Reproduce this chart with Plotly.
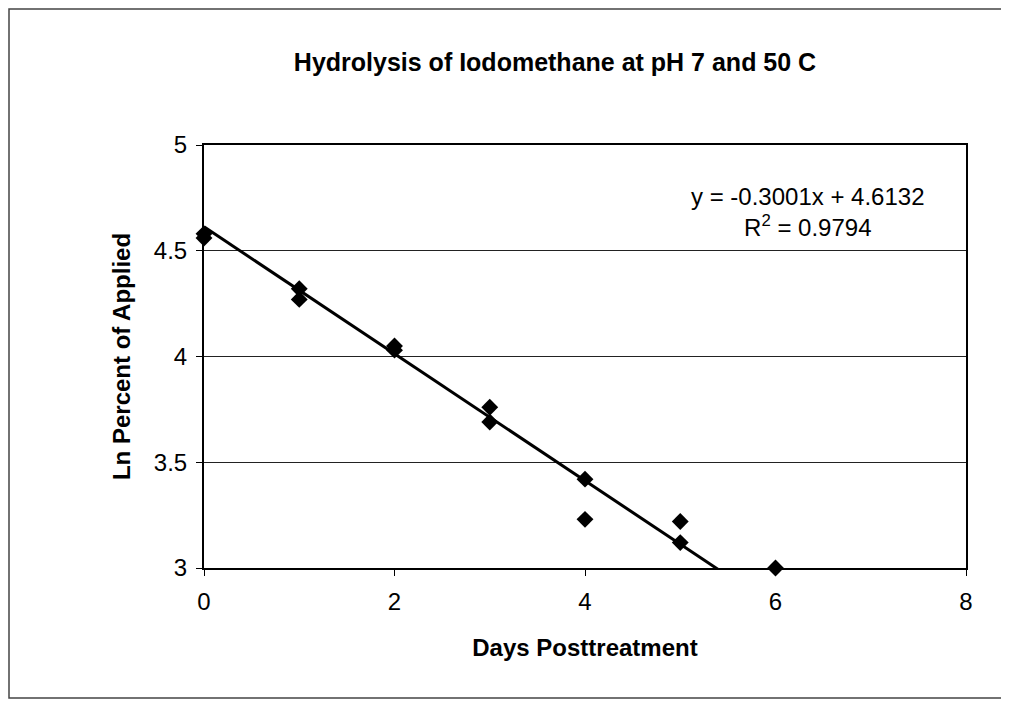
import numpy as np
import plotly.graph_objects as go

# Data
days = [0, 0, 1, 1, 2, 2, 3, 3, 4, 4, 5, 5, 6]
ln_percent = [4.58, 4.56, 4.32, 4.27, 4.05, 4.03, 3.76, 3.69, 3.42, 3.23, 3.22, 3.12, 3.0]
slope = -0.3001
intercept = 4.6132
r_squared = 0.9794
x_ticks = [0, 2, 4, 6, 8]
y_ticks = [3, 3.5, 4, 4.5, 5]

FONT = "Arial, 'Liberation Sans', sans-serif"

trend_x = np.array([min(x_ticks), max(x_ticks)], dtype=float)
trend_y = slope * trend_x + intercept

fig = go.Figure()
fig.add_trace(go.Scatter(
    x=trend_x, y=trend_y, mode="lines",
    line=dict(color="black", width=3),
    showlegend=False, hoverinfo="skip",
))
fig.add_trace(go.Scatter(
    x=days, y=ln_percent, mode="markers",
    marker=dict(symbol="diamond", size=13, color="black"),
    cliponaxis=False, showlegend=False,
))

OFF = 8  # page body margin
W, H = 1009 - OFF, 711 - OFF
L, R, T, B = 204 - OFF, 966 - OFF, 145 - OFF, 568 - OFF
pw, ph = R - L, B - T


def px(xp):
    return (xp - OFF - L) / pw


def py(yp):
    return (B - (yp - OFF)) / ph


fig.update_layout(
    width=W, height=H,
    margin=dict(l=L, r=W - R, t=T, b=H - B),
    paper_bgcolor="white", plot_bgcolor="white",
    font=dict(family=FONT, color="black", size=24),
    title=dict(
        text="<b>Hydrolysis of Iodomethane at pH 7 and 50 C</b>",
        xref="paper", x=px(555), xanchor="center",
        yref="container", y=1 - (62 - OFF) / H, yanchor="middle",
        font=dict(size=25, family=FONT, color="black"),
    ),
    xaxis=dict(
        range=[0, 8], tickvals=x_ticks, ticks="outside", ticklen=6,
        tickcolor="black", tickwidth=1, showgrid=False, zeroline=False,
        showline=True, linecolor="black", linewidth=2, mirror=True,
        ticklabelstandoff=5, tickfont=dict(size=24),
        title=dict(text="<b>Days Posttreatment</b>", standoff=25,
                   font=dict(size=24)),
    ),
    yaxis=dict(
        range=[3, 5], tickvals=y_ticks, ticks="outside", ticklen=6,
        tickcolor="black", tickwidth=1, showgrid=True, gridcolor="#222222",
        gridwidth=1, zeroline=False,
        showline=True, linecolor="black", linewidth=2, mirror=True,
        ticklabelstandoff=4, tickfont=dict(size=24),
        title=dict(text="<b>Ln Percent of Applied</b>", standoff=16,
                   font=dict(size=24)),
    ),
    shapes=[dict(
        type="rect", xref="paper", yref="paper",
        x0=px(9), x1=px(1005), y0=py(698), y1=py(9),
        line=dict(color="#444444", width=1.5), layer="below",
    )],
    annotations=[dict(
        text=f"y = {slope:.4f}x + {intercept:.4f}<br>R<sup>2</sup> = {r_squared:.4f}",
        x=px(808), y=py(212), xref="paper", yref="paper",
        xanchor="center", yanchor="middle", showarrow=False,
        font=dict(size=24, family=FONT, color="black"), align="center",
    )],
)

fig.write_html("out.html")
